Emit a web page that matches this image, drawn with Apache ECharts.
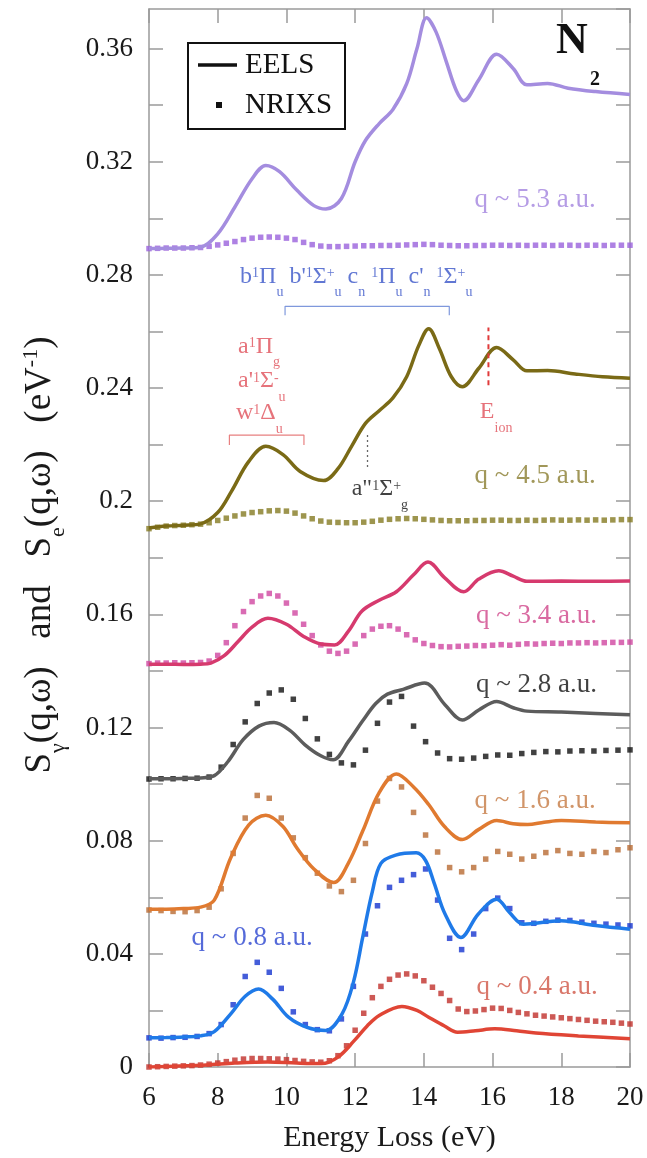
<!DOCTYPE html>
<html><head><meta charset="utf-8">
<script src="https://cdn.jsdelivr.net/npm/echarts@6/dist/echarts.min.js"></script>
<style>html,body{margin:0;padding:0;background:#fff}#c{width:647px;height:1158px}</style>
</head><body><div id="c"></div>
<script>
const FONT = 'Liberation Serif';
const xTicks = [6, 8, 10, 12, 14, 16, 18, 20];

// NRIXS energy grids (eV)
const gridA = [6,6.25,6.5,6.75, 7,7.25,7.5,7.75, 8,8.25,8.5,8.75, 9,9.25,9.5,9.75, 10,10.25,10.5,10.75,
  11,11.25,11.5,11.75, 12,12.25,12.5,12.75, 13,13.25,13.5,13.75, 14,14.25,14.5,14.75, 15,15.25,15.5,15.75,
  16,16.25,16.5,16.75, 17,17.25,17.5,17.75, 18,18.25,18.5,18.75, 19,19.25,19.5,19.75, 20];
const gridB = [6,6.35,6.7,7.05,7.4, 7.75,8.1,8.45,8.8,9.15, 9.5,9.85,10.2,10.55,10.9, 11.25,11.6,11.95,12.3,12.65,
  13,13.35,13.7,14.05,14.4, 14.75,15.1,15.45,15.8,16.15, 16.5,16.85,17.2,17.55,17.9, 18.25,18.6,18.95,19.3,19.65, 20];

// NRIXS values
const nrixs53 = [0.2893,0.2894,0.2895,0.2895, 0.2895,0.2896,0.2897,0.2901, 0.2906,0.2912,0.2918,0.2925, 0.2930,0.2933,0.2934,0.2933,
  0.2930,0.2925,0.2915,0.2907, 0.2902,0.2900,0.2900,0.2901, 0.2902,0.2903,0.2903,0.2904, 0.2904,0.2905,0.2906,0.2907,
  0.2908,0.2907,0.2905,0.2904, 0.2903,0.2903,0.2904,0.2904, 0.2905,0.2905,0.2904,0.2905, 0.2904,0.2905,0.2905,0.2904,
  0.2905,0.2905,0.2904,0.2905, 0.2905,0.2904,0.2905,0.2905, 0.2905];
const nrixs45 = [0.1903,0.1908,0.1912,0.1914, 0.1915,0.1917,0.1919,0.1924, 0.1932,0.1940,0.1948,0.1955, 0.1960,0.1963,0.1966,0.1967,
  0.1965,0.1958,0.1948,0.1938, 0.1930,0.1926,0.1925,0.1924, 0.1924,0.1926,0.1929,0.1933, 0.1936,0.1938,0.1939,0.1938,
  0.1936,0.1934,0.1932,0.1931, 0.1931,0.1931,0.1932,0.1932, 0.1933,0.1933,0.1932,0.1932, 0.1933,0.1932,0.1933,0.1934,
  0.1933,0.1933,0.1934,0.1933, 0.1934,0.1933,0.1934,0.1935, 0.1935];
const nrixs34 = [0.1426,0.1428,0.1428,0.1429, 0.1428,0.1429,0.1430,0.1435, 0.1455,0.1500,0.1560,0.1610, 0.1645,0.1665,0.1674,0.1665,
  0.1640,0.1605,0.1565,0.1525, 0.1492,0.1470,0.1462,0.1470, 0.1495,0.1525,0.1548,0.1558, 0.1560,0.1548,0.1528,0.1510,
  0.1497,0.1490,0.1486,0.1485, 0.1487,0.1488,0.1490,0.1489, 0.1491,0.1493,0.1491,0.1494, 0.1496,0.1495,0.1497,0.1498,
  0.1497,0.1499,0.1499,0.1500, 0.1499,0.1500,0.1501,0.1501, 0.1502];
const nrixs28 = [0.1018,0.1019,0.1019,0.1020,0.1021, 0.1025,0.1060,0.1140,0.1220,0.1285, 0.1322,0.1333,0.1300,0.1232,0.1160,
  0.1105,0.1075,0.1068,0.1120,0.1215, 0.1290,0.1310,0.1205,0.1150,0.1110, 0.1090,0.1088,0.1092,0.1098,0.1103,
  0.1102,0.1108,0.1112,0.1115,0.1114, 0.1117,0.1118,0.1117,0.1119,0.1120, 0.1121];
const nrixs16 = [0.0555,0.0553,0.0550,0.0549,0.0553, 0.0565,0.0630,0.0755,0.0880,0.0960, 0.0950,0.0880,0.0810,0.0740,0.0685,
  0.0640,0.0620,0.0660,0.0790,0.0940, 0.1020,0.0990,0.0900,0.0820,0.0760, 0.0705,0.0690,0.0705,0.0735,0.0762,
  0.0752,0.0735,0.0745,0.0758,0.0765, 0.0755,0.0752,0.0762,0.0758,0.0768, 0.0775];
const nrixs08 = [0.0103,0.0102,0.0104,0.0105,0.0108, 0.0118,0.0150,0.0220,0.0320,0.0370, 0.0335,0.0278,0.0195,0.0150,0.0132,
  0.0128,0.0170,0.0285,0.0470,0.0570, 0.0635,0.0660,0.0680,0.0700,0.0590, 0.0455,0.0415,0.0470,0.0560,0.0597,
  0.0560,0.0510,0.0508,0.0515,0.0519, 0.0518,0.0512,0.0508,0.0505,0.0502, 0.0499];
const nrixs04 = [0.0000,0.0001,0.0002,0.0003, 0.0004,0.0005,0.0007,0.0010, 0.0014,0.0019,0.0024,0.0028, 0.0030,0.0030,0.0029,0.0028,
  0.0026,0.0023,0.0020,0.0018, 0.0017,0.0022,0.0040,0.0075, 0.0130,0.0190,0.0245,0.0285, 0.0310,0.0325,0.0329,0.0322,
  0.0305,0.0282,0.0260,0.0235, 0.0205,0.0196,0.0198,0.0203, 0.0208,0.0207,0.0200,0.0193, 0.0188,0.0183,0.0180,0.0177,
  0.0174,0.0171,0.0168,0.0165, 0.0162,0.0160,0.0158,0.0155, 0.0152];

// EELS curves [energy, value]
const eels53 = [[6,0.2893],[6.5,0.2894],[7,0.2895],[7.5,0.2898],[8,0.2945],[8.5,0.3040],[9,0.3140],[9.4,0.3187],[9.8,0.3165],
  [10.3,0.3100],[10.8,0.3045],[11.15,0.3033],[11.6,0.3070],[12,0.3200],[12.3,0.3275],[12.7,0.3335],[13.1,0.3385],[13.5,0.3476],
  [13.8,0.3600],[14.08,0.3709],[14.35,0.3660],[14.65,0.3555],[14.95,0.3450],[15.16,0.3416],[15.6,0.3490],[16.12,0.3580],[16.6,0.3530],
  [17.0,0.3472],[17.6,0.3477],[18.2,0.3460],[19,0.3448],[20,0.3438]];
const eels45 = [[6,0.1905],[6.5,0.1912],[7,0.1915],[7.5,0.1920],[8,0.1960],[8.4,0.2035],[8.9,0.2140],[9.4,0.2194],[9.9,0.2165],
  [10.4,0.2105],[11.08,0.2073],[11.5,0.2115],[11.9,0.2195],[12.3,0.2275],[12.7,0.2320],[13.1,0.2365],[13.5,0.2440],[13.85,0.2550],
  [14.14,0.2610],[14.45,0.2540],[14.8,0.2440],[15.12,0.2405],[15.6,0.2470],[16.12,0.2543],[16.6,0.2500],[17.0,0.2461],
  [17.6,0.2462],[18.4,0.2450],[19.2,0.2440],[20,0.2435]];
const eels34 = [[6,0.1424],[6.5,0.1424],[7,0.1423],[7.5,0.1424],[7.8,0.1428],[8.2,0.1455],[8.6,0.1505],[9.0,0.1555],[9.46,0.1586],
  [10.0,0.1565],[10.5,0.1522],[11.0,0.1495],[11.4,0.1492],[11.8,0.1540],[12.2,0.1612],[12.7,0.1650],[13.2,0.1680],[13.7,0.1740],
  [14.12,0.1785],[14.6,0.1730],[15.16,0.1680],[15.6,0.1725],[16.18,0.1754],[16.6,0.1735],[17.0,0.1717],[18,0.1718],[19,0.1717],[20,0.1718]];
const eels28 = [[6,0.1019],[6.5,0.1019],[7,0.1020],[7.5,0.1022],[7.9,0.1030],[8.3,0.1080],[8.74,0.1157],[9.2,0.1205],[9.64,0.1218],
  [10.1,0.1190],[10.54,0.1139],[11.0,0.1100],[11.36,0.1086],[11.8,0.1150],[12.22,0.1224],[12.6,0.1285],[12.94,0.1318],[13.4,0.1335],
  [14.02,0.1357],[14.62,0.1280],[15.12,0.1227],[15.6,0.1262],[16.12,0.1292],[16.6,0.1270],[17.0,0.1258],[18,0.1255],[19,0.1250],[20,0.1245]];
const eels16 = [[6,0.0558],[6.5,0.0558],[7,0.0560],[7.5,0.0565],[7.9,0.0590],[8.38,0.0740],[8.9,0.0855],[9.4,0.0890],[9.9,0.0850],
  [10.3,0.0775],[10.8,0.0700],[11.38,0.0652],[11.8,0.0720],[12.22,0.0834],[12.7,0.0970],[13.2,0.1036],[13.7,0.0990],[14.14,0.0928],
  [14.6,0.0850],[15.12,0.0804],[15.6,0.0840],[16.12,0.0871],[16.6,0.0860],[17.02,0.0857],[17.5,0.0865],[18.0,0.0871],[19,0.0866],[20,0.0863]];
const eels08 = [[6,0.0103],[6.5,0.0104],[7,0.0106],[7.5,0.0110],[7.9,0.0125],[8.38,0.0188],[8.8,0.0250],[9.19,0.0276],[9.6,0.0240],
  [10.06,0.0176],[10.6,0.0140],[11.14,0.0129],[11.62,0.0188],[11.95,0.0300],[12.22,0.0458],[12.5,0.0620],[12.75,0.0720],[13.18,0.0749],
  [13.78,0.0757],[14.05,0.0730],[14.3,0.0650],[14.62,0.0540],[15.08,0.0458],[15.58,0.0540],[16.12,0.0593],[16.5,0.0545],[16.9,0.0505],
  [17.98,0.0517],[19,0.0500],[20,0.0487]];
const eels04 = [[6,0.0000],[6.5,0.0002],[7,0.0004],[7.66,0.0007],[8.5,0.0014],[9.46,0.0018],[10.3,0.0014],[11.02,0.0012],[11.5,0.0035],
  [11.98,0.0094],[12.35,0.0145],[12.7,0.0182],[13.36,0.0214],[13.8,0.0200],[14.14,0.0176],[14.6,0.0145],[14.98,0.0123],[15.5,0.0128],
  [16.06,0.0135],[16.7,0.0128],[17.26,0.0120],[18.5,0.0110],[20,0.0100]];

// curve labels
const qLabels = ['q ~ 5.3 a.u.', 'q ~ 4.5 a.u.', 'q ~ 3.4 a.u.', 'q ~ 2.8 a.u.', 'q ~ 1.6 a.u.', 'q ~ 0.8 a.u.', 'q ~ 0.4 a.u.'];
const qAnchors = [[19.0,0.3066],[19.0,0.2091],[19.04,0.1593],[19.04,0.1351],[19.0,0.0941],[7.24,0.0458],[19.06,0.0282]];

// annotation shapes (data coordinates)
const redBracket = [[8.34,0.2199],[8.34,0.2234],[10.51,0.2234],[10.51,0.2199]];
const blueBracket = [[9.96,0.2657],[9.96,0.2689],[14.74,0.2689],[14.74,0.2657]];
const eionLine = [[15.88,0.2410],[15.88,0.2614]];
const aSigmaLine = [[12.36,0.2121],[12.36,0.2237]];

const curves = [
  {eels: eels53, nrixs: nrixs53, grid: gridA, line: '#a48ddf', dot: '#9a62dc', txt: '#a283de'},
  {eels: eels45, nrixs: nrixs45, grid: gridA, line: '#7a6a16', dot: '#857a22', txt: '#8a7d30'},
  {eels: eels34, nrixs: nrixs34, grid: gridA, line: '#d63a6e', dot: '#d046a0', txt: '#d0458a'},
  {eels: eels28, nrixs: nrixs28, grid: gridB, line: '#5c5c5c', dot: '#111111', txt: '#111111'},
  {eels: eels16, nrixs: nrixs16, grid: gridB, line: '#e07a30', dot: '#b86a32', txt: '#c67a44'},
  {eels: eels08, nrixs: nrixs08, grid: gridB, line: '#1f7ae8', dot: '#1535d0', txt: '#2a45d0'},
  {eels: eels04, nrixs: nrixs04, grid: gridA, line: '#e04535', dot: '#c0302a', txt: '#d05545'}
];

const richAnn = {
  m: {fontSize: 24, lineHeight: 48, fontFamily: FONT},
  sup: {fontSize: 14, fontFamily: FONT, verticalAlign: 'top', padding: [14, 0, 0, 0]},
  sub: {fontSize: 14, fontFamily: FONT, verticalAlign: 'bottom', padding: [0, 0, 1, 0]}
};
const annotations = [
  {at: [8.65, 0.2879], color: '#3a55c8', text: "{m|b}{sup|1}{m|Π}{sub|u} {m|b'}{sup|1}{m|Σ}{sup|+}{sub|u} {m|c}{sub|n} {sup|1}{m|Π}{sub|u} {m|c'}{sub|n} {sup|1}{m|Σ}{sup|+}{sub|u}"},
  {at: [8.59, 0.2632], color: '#e0505a', text: '{m|a}{sup|1}{m|Π}{sub|g}'},
  {at: [8.59, 0.2510], color: '#e0505a', text: "{m|a'}{sup|1}{m|Σ}{sup|-}{sub|u}"},
  {at: [8.53, 0.2397], color: '#e0505a', text: '{m|w}{sup|1}{m|Δ}{sub|u}'},
  {at: [11.9, 0.2128], color: '#111111', text: '{m|a"}{sup|1}{m|Σ}{sup|+}{sub|g}'},
  {at: [15.63, 0.2400], color: '#e0505a', text: '{m|E}{sub|ion}'}
];

const series = [];
curves.forEach((c, i) => {
  series.push({type: 'scatter', data: c.grid.map((x, k) => [x, c.nrixs[k]]), symbol: 'rect', symbolSize: 5.5,
    itemStyle: {color: c.dot}, silent: true, z: 2});
  series.push({type: 'line', data: c.eels, smooth: 0.35, symbol: 'none', lineStyle: {color: c.line, width: 3.5}, z: 3});
});
series.push({type: 'line', data: redBracket, symbol: 'none', lineStyle: {color: '#e88080', width: 1.2}, z: 4});
series.push({type: 'line', data: blueBracket, symbol: 'none', lineStyle: {color: '#7f98dc', width: 1.2}, z: 4});
series.push({type: 'line', data: eionLine, symbol: 'none', lineStyle: {color: '#e03a3a', width: 2, type: [5, 4]}, z: 4});
series.push({type: 'line', data: aSigmaLine, symbol: 'none', lineStyle: {color: '#666', width: 1.3, type: [2, 3]}, z: 4});
series.push({type: 'scatter', symbolSize: 0, silent: true, z: 6,
  data: qLabels.map((t, i) => ({value: qAnchors[i], label: {show: true, position: [0, 0],
    align: i === 5 ? 'left' : 'right', verticalAlign: 'middle', formatter: t,
    fontFamily: FONT, fontSize: 27, color: curves[i].txt}}))});
series.push({type: 'scatter', symbolSize: 0, silent: true, z: 6,
  data: annotations.map(a => ({value: a.at, label: {show: true, position: [0, 0], align: 'left', verticalAlign: 'top',
    formatter: a.text, rich: richAnn, fontFamily: FONT, fontSize: 24, color: a.color}}))});

const axLine = {show: true, onZero: false, lineStyle: {color: '#9a9a9a', width: 1.5}};
const axTick = {show: true, inside: true, length: 14, lineStyle: {color: '#9a9a9a', width: 1.5}};
const yFmt = v => { const k = Math.round(v * 100); return (Math.abs(v * 100 - k) < 1e-6 && k % 4 === 0) ? String(parseFloat(v.toFixed(2))) : ''; };

const chart = echarts.init(document.getElementById('c'), null, {renderer: 'canvas'});
chart.setOption({
  animation: false,
  backgroundColor: '#fff',
  grid: {left: 149, right: 17, top: 9, bottom: 88, show: false},
  xAxis: [
    {type: 'value', min: xTicks[0], max: xTicks[xTicks.length - 1], interval: 2, position: 'bottom',
      axisLine: axLine, axisTick: axTick, splitLine: {show: false},
      axisLabel: {fontFamily: FONT, fontSize: 27, color: '#1a1a1a', margin: 17},
      name: 'Energy Loss (eV)', nameLocation: 'middle', nameGap: 56,
      nameTextStyle: {fontFamily: FONT, fontSize: 30, color: '#1a1a1a'}},
    {type: 'value', min: xTicks[0], max: xTicks[xTicks.length - 1], interval: 2, position: 'top',
      axisLine: axLine, axisTick: axTick, splitLine: {show: false}, axisLabel: {show: false}}
  ],
  yAxis: [
    {type: 'value', min: 0, max: 0.374, interval: 0.02, position: 'left',
      axisLine: axLine, axisTick: axTick, splitLine: {show: false},
      axisLabel: {fontFamily: FONT, fontSize: 27, color: '#1a1a1a', margin: 16, formatter: yFmt, showMaxLabel: false}},
    {type: 'value', min: 0, max: 0.374, interval: 0.02, position: 'right',
      axisLine: axLine, axisTick: axTick, splitLine: {show: false}, axisLabel: {show: false}}
  ],
  graphic: [
    {type: 'rect', shape: {x: 188, y: 43, width: 157, height: 86}, style: {fill: '#fff', stroke: '#111', lineWidth: 2}, z: 10},
    {type: 'line', shape: {x1: 198, y1: 65, x2: 237, y2: 65}, style: {stroke: '#111', lineWidth: 3.5}, z: 11},
    {type: 'rect', shape: {x: 216, y: 102, width: 6, height: 6}, style: {fill: '#111'}, z: 11},
    {type: 'text', x: 245, y: 65, style: {text: 'EELS', font: '29px "Liberation Serif"', fill: '#111', textVerticalAlign: 'middle'}, z: 11},
    {type: 'text', x: 245, y: 105, style: {text: 'NRIXS', font: '29px "Liberation Serif"', fill: '#111', textVerticalAlign: 'middle'}, z: 11},
    {type: 'text', x: 556, y: 64, style: {text: 'N', font: 'bold 44px "Liberation Serif"', fill: '#111', textVerticalAlign: 'bottom'}, z: 11},
    {type: 'text', x: 590, y: 90, style: {text: '2', font: 'bold 20px "Liberation Serif"', fill: '#111', textVerticalAlign: 'bottom'}, z: 11},
    {type: 'text', x: 40, y: 555, rotation: Math.PI / 2, z: 11,
      style: {text: '{m|S}{sub|γ}{m|(q,ω)   and   S}{sub|e}{m|(q,ω)   (eV}{sup|-1}{m|)}',
        align: 'center', verticalAlign: 'middle', fill: '#1a1a1a',
        rich: {
          m: {fontSize: 37, lineHeight: 58, fontFamily: FONT, fill: '#1a1a1a'},
          sup: {fontSize: 22, fontFamily: FONT, verticalAlign: 'top', padding: [9, 0, 0, 0], fill: '#1a1a1a'},
          sub: {fontSize: 22, fontFamily: FONT, verticalAlign: 'bottom', padding: [0, 0, 0, 0], fill: '#1a1a1a'}
        }}}
  ],
  series: series
});
</script></body></html>
